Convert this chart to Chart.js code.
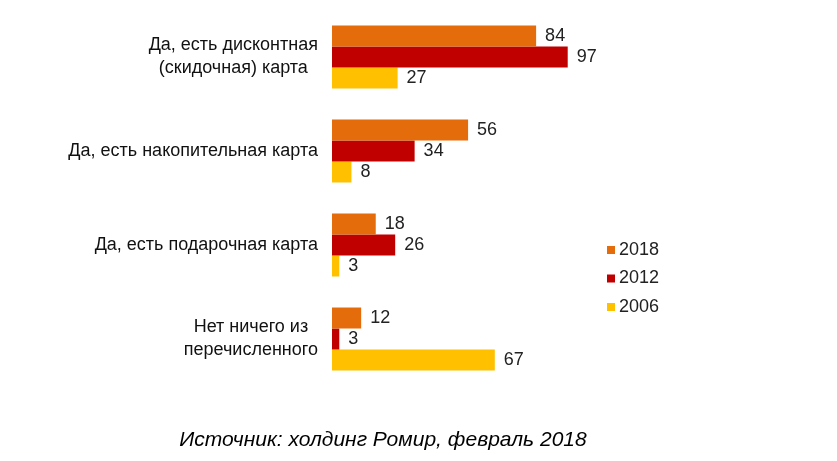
<!DOCTYPE html>
<html>
<head>
<meta charset="utf-8">
<script src="https://cdn.jsdelivr.net/npm/chart.js@4.4.0/dist/chart.umd.min.js"></script>
<style>
    html, body { margin: 0; padding: 0; background: #ffffff; }
    #wrap { position: relative; width: 837px; height: 461px; }
</style>
</head>
<body>
<div id="wrap"><canvas id="cardsChart" width="837" height="461"></canvas></div>
<script>
// Data
const categories = [
    ['Да, есть дисконтная', '(скидочная) карта'],
    ['Да, есть накопительная карта'],
    ['Да, есть подарочная карта'],
    ['Нет ничего из', 'перечисленного']
];
const seriesLabels = ['2018', '2012', '2006'];
const values2018 = [84, 56, 18, 12];
const values2012 = [97, 34, 26, 3];
const values2006 = [27, 8, 3, 67];
const sourceText = 'Источник: холдинг Ромир, февраль 2018';

const colors = ['#E46C0A', '#C00000', '#FFC000'];
const fontFamily = "'Liberation Sans', Arial, sans-serif";

// Category labels, value labels, legend and source note
const decorPlugin = {
    id: 'decor',
    afterDatasetsDraw(chart) {
        const ctx = chart.ctx;
        const yScale = chart.scales.y;
        ctx.save();

        // value labels at bar ends
        ctx.font = '18px ' + fontFamily;
        ctx.fillStyle = '#222222';
        ctx.textAlign = 'left';
        ctx.textBaseline = 'middle';
        chart.data.datasets.forEach((ds, i) => {
            chart.getDatasetMeta(i).data.forEach((bar, j) => {
                ctx.fillText(ds.data[j], bar.x + 9, bar.y);
            });
        });

        // category labels (lines centered, block right-aligned)
        ctx.font = '18px ' + fontFamily;
        ctx.fillStyle = '#111111';
        ctx.textAlign = 'center';
        const rightEdge = chart.chartArea.left - 14;
        const lineH = 23;
        categories.forEach((lines, i) => {
            const yc = yScale.getPixelForValue(i);
            const maxW = Math.max(...lines.map(l => ctx.measureText(l).width));
            const xc = rightEdge - maxW / 2;
            lines.forEach((l, k) => {
                ctx.fillText(l, xc, yc + (k - (lines.length - 1) / 2) * lineH);
            });
        });

        // legend
        ctx.font = '18px ' + fontFamily;
        ctx.textAlign = 'left';
        chart.data.datasets.forEach((ds, i) => {
            const y = 250 + i * 28.5;
            ctx.fillStyle = ds.backgroundColor;
            ctx.fillRect(607, y - 4, 8, 8);
            ctx.fillStyle = '#222222';
            ctx.fillText(ds.label, 619, y);
        });

        // source note
        ctx.font = 'italic 21px ' + fontFamily;
        ctx.fillStyle = '#000000';
        ctx.textAlign = 'center';
        ctx.fillText(sourceText, 383, 440);

        ctx.restore();
    }
};

function initCardsChart() {
    const ctx = document.getElementById('cardsChart');

    const data = {
        labels: categories,
        datasets: [
            { label: seriesLabels[0], data: values2018, backgroundColor: colors[0] },
            { label: seriesLabels[1], data: values2012, backgroundColor: colors[1] },
            { label: seriesLabels[2], data: values2006, backgroundColor: colors[2] }
        ]
    };

    new Chart(ctx, {
        type: 'bar',
        data: data,
        options: {
            indexAxis: 'y',
            responsive: false,
            animation: false,
            datasets: {
                bar: {
                    categoryPercentage: 0.67,
                    barPercentage: 1.0,
                    borderWidth: 0
                }
            },
            layout: {
                padding: { left: 332, right: 262, top: 10, bottom: 75 }
            },
            plugins: {
                legend: { display: false },
                tooltip: { enabled: false },
                title: { display: false }
            },
            scales: {
                x: {
                    display: false,
                    min: 0,
                    max: 100
                },
                y: {
                    display: false
                }
            }
        },
        plugins: [decorPlugin]
    });
}

initCardsChart();
</script>
</body>
</html>
